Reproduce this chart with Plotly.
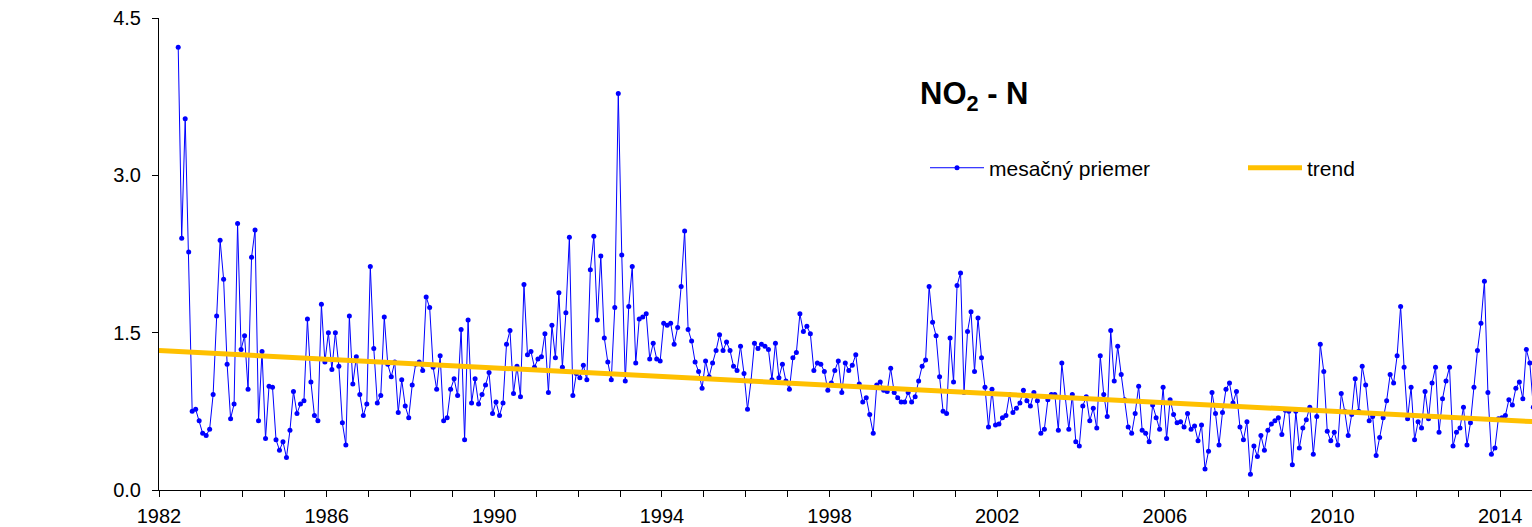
import plotly.graph_objects as go

# Monthly means, starting June 1982
START_YEAR = 1982
START_MONTH = 6

monthly_values = [
    4.22, 2.40, 3.54, 2.27, 0.75, 0.77, 0.66, 0.54, 0.52, 0.58,
    0.91, 1.66, 2.38, 2.01, 1.20, 0.68, 0.82, 2.54, 1.34, 1.47,
    0.96, 2.22, 2.48, 0.66, 1.32, 0.49, 0.99, 0.98, 0.48, 0.38,
    0.46, 0.31, 0.57, 0.94, 0.73, 0.82, 0.85, 1.63, 1.03, 0.71,
    0.66, 1.77, 1.22, 1.50, 1.15, 1.50, 1.18, 0.64, 0.43, 1.66,
    1.01, 1.27, 0.91, 0.71, 0.82, 2.13, 1.35, 0.83, 0.90, 1.65,
    1.20, 1.08,
    1.22, 0.74, 1.05, 0.80, 0.69, 1.00, 1.20, 1.22, 1.14, 1.84,
    1.74, 1.17, 0.96, 1.28, 0.66, 0.69, 0.96, 1.06, 0.90, 1.53,
    0.48, 1.62, 0.83, 1.06, 0.82, 0.91, 1.00, 1.12, 0.73, 0.84,
    0.71, 0.83, 1.39, 1.52, 0.92, 1.18, 0.89, 1.96, 1.29, 1.32,
    1.17, 1.25, 1.27, 1.49, 0.93, 1.57, 1.26, 1.88, 1.17, 1.69,
    2.41, 0.90, 1.11, 1.07, 1.19, 1.05, 2.10, 2.42, 1.62, 2.23,
    1.45, 1.22, 1.05, 1.74, 3.78, 2.24, 1.04,
    1.75, 2.13, 1.21, 1.63, 1.65, 1.68, 1.25, 1.40, 1.25, 1.23,
    1.59, 1.57, 1.59, 1.39, 1.55, 1.94, 2.47, 1.53, 1.42, 1.22,
    1.13, 0.97, 1.23, 1.08, 1.21, 1.33, 1.48, 1.33, 1.41, 1.33,
    1.18, 1.14, 1.37, 1.11, 0.77, 1.04, 1.40, 1.35, 1.39, 1.37,
    1.34, 1.05, 1.40, 1.07, 1.20, 1.04, 0.96, 1.26, 1.31, 1.68,
    1.51, 1.56, 1.49, 1.14, 1.21, 1.20, 1.13, 0.95, 1.02, 1.14,
    1.23, 0.93, 1.21, 1.14, 1.19, 1.29, 1.01,
    0.84, 0.88, 0.72, 0.54, 1.00, 1.03, 0.95, 0.94, 1.16, 0.93,
    0.88, 0.84, 0.84, 0.93, 0.84, 0.89, 1.04, 1.18, 1.24, 1.94,
    1.60, 1.47, 1.08, 0.75, 0.73, 1.45, 1.03, 1.95, 2.07, 0.93,
    1.51, 1.70, 1.13, 1.64, 1.26, 0.98, 0.60, 0.96, 0.62, 0.63,
    0.69, 0.71, 0.91, 0.74, 0.78, 0.83, 0.95, 0.85, 0.80, 0.93,
    0.85, 0.54, 0.58, 0.86, 0.91, 0.91, 0.57, 1.21, 0.88, 0.58,
    0.91, 0.46, 0.42, 0.80, 0.89, 0.66, 0.78,
    0.59, 1.28, 0.91, 0.70, 1.52, 1.04, 1.37, 1.10, 0.86, 0.60,
    0.54, 0.73, 0.99, 0.57, 0.54, 0.46, 0.81, 0.69, 0.58, 0.98,
    0.49, 0.86, 0.72, 0.64, 0.65, 0.60, 0.73, 0.58, 0.61, 0.47,
    0.62, 0.20, 0.37, 0.93, 0.73, 0.43, 0.74, 0.96, 1.02, 0.83,
    0.94, 0.60, 0.48, 0.65, 0.15, 0.42, 0.32, 0.52, 0.38, 0.57,
    0.63, 0.66, 0.69, 0.53, 0.76, 0.75, 0.24, 0.75, 0.40, 0.59,
    0.67, 0.79, 0.34, 0.70, 1.39, 1.13, 0.56,
    0.47, 0.55, 0.43, 0.92, 0.75, 0.52, 0.72, 1.06, 0.75, 1.18,
    1.00, 0.66, 0.70, 0.33, 0.50, 0.69, 0.85, 1.10, 1.02, 1.28,
    1.75, 1.17, 0.68, 0.98, 0.48, 0.65, 0.59, 0.94, 0.68, 1.02,
    1.17, 0.55, 0.87, 1.04, 1.17, 0.42, 0.55, 0.59, 0.79, 0.43,
    0.64, 0.98, 1.33, 1.59, 1.99, 0.93, 0.34, 0.40, 0.68, 0.69,
    0.71, 0.86, 0.81, 0.97, 1.03, 0.87, 1.34, 1.21, 0.79,
]

trend_years = [1982.0, 2015.0]
trend_values = [1.33, 0.647]

x_tick_years = [1982, 1986, 1990, 1994, 1998, 2002, 2006, 2010, 2014]
y_ticks = [0.0, 1.5, 3.0, 4.5]
y_labels = ["0.0", "1.5", "3.0", "4.5"]

# decimal-year position of each monthly mean (mid-month)
x_months = [START_YEAR + (START_MONTH - 1 + i + 0.5) / 12.0 for i in range(len(monthly_values))]

FONT = "Arial, 'Liberation Sans', sans-serif"

fig = go.Figure()
fig.add_trace(go.Scatter(
    x=x_months, y=monthly_values, mode="lines+markers",
    name="mesačný priemer",
    line=dict(color="#0000FF", width=1),
    marker=dict(color="#0000FF", size=5),
))
fig.add_trace(go.Scatter(
    x=trend_years, y=trend_values, mode="lines",
    name="trend",
    line=dict(color="#FFC000", width=5),
))

fig.update_layout(
    width=1532, height=527,
    margin=dict(l=159, r=0, t=18, b=37, pad=0, autoexpand=False),
    paper_bgcolor="white", plot_bgcolor="white",
    font=dict(family=FONT, size=20, color="black"),
    showlegend=True,
    legend=dict(
        orientation="h", x=(925 - 159) / 1373, xanchor="left", y=0.682, yanchor="middle",
        font=dict(family=FONT, size=21, color="black"),
        entrywidth=249, itemwidth=54, bgcolor="rgba(0,0,0,0)",
    ),
    annotations=[dict(
        text="<b>NO<sub>2</sub> - N</b>", x=(975 - 159) / 1373, y=0.882, xref="paper", yref="paper",
        showarrow=False, font=dict(family=FONT, size=31, color="black"),
    )],
)
fig.update_xaxes(
    range=[1982, 2014.76], showline=True, linecolor="black", linewidth=1,
    ticks="outside", ticklen=6, tickcolor="black",
    tickvals=x_tick_years, showgrid=False, zeroline=False, automargin=False,
    minor=dict(dtick=1, tick0=1982, ticks="outside", ticklen=6, tickcolor="black", showgrid=False),
    ticklabelstandoff=2,
    tickfont=dict(family=FONT, size=20, color="black"),
)
fig.update_yaxes(
    range=[0, 4.5], showline=True, linecolor="black", linewidth=1,
    ticks="outside", ticklen=6, tickcolor="black", automargin=False,
    tickvals=y_ticks, ticktext=y_labels, showgrid=False, zeroline=False,
    ticklabelstandoff=7,
    tickfont=dict(family=FONT, size=20, color="black"),
)

fig.write_html(
    "out.html",
    config={"displayModeBar": False},
    post_script="document.body.style.margin='0';document.body.style.overflow='hidden';",
)
